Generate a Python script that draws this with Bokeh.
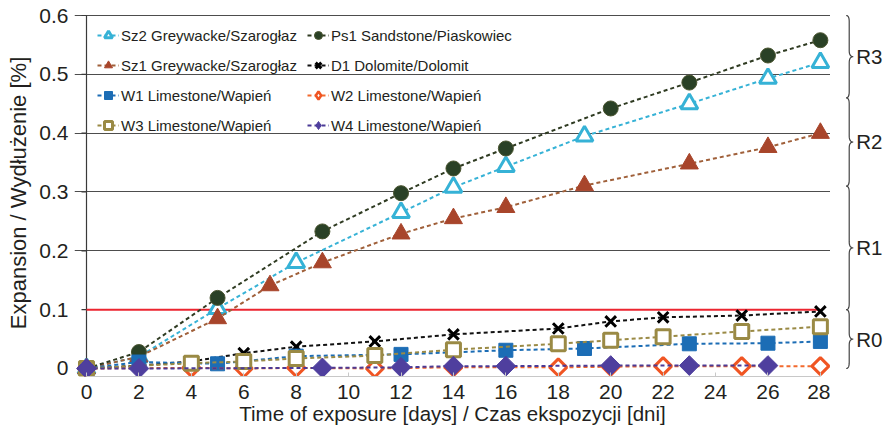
import numpy as np
from bokeh.plotting import figure
from bokeh.layouts import row
from bokeh.models import Range1d, FixedTicker, Legend, LegendItem
from bokeh.core.properties import value
from bokeh.embed import file_html
from bokeh.resources import INLINE

# ---------------- data ----------------
X_TICKS = list(range(0, 29, 2))
Y_TICKS = [0, 0.1, 0.2, 0.3, 0.4, 0.5, 0.6]
Y_TICK_LABELS = {0: "0", 0.1: "0.1", 0.2: "0.2", 0.3: "0.3", 0.4: "0.4", 0.5: "0.5", 0.6: "0.6"}
GRID_LEVELS = [0.2, 0.3, 0.4, 0.5, 0.6]
THRESHOLD = 0.1

sz2_days = [0, 2, 5, 8, 12, 14, 16, 19, 23, 26, 28]
sz2_exp = [0, 0.02, 0.102, 0.18, 0.265, 0.308, 0.343, 0.395, 0.45, 0.493, 0.52]
ps1_days = [0, 2, 5, 9, 12, 14, 16, 20, 23, 26, 28]
ps1_exp = [0, 0.028, 0.12, 0.233, 0.298, 0.34, 0.374, 0.442, 0.486, 0.532, 0.558]
sz1_days = [0, 2, 5, 7, 9, 12, 14, 16, 19, 23, 26, 28]
sz1_exp = [0, 0.02, 0.085, 0.141, 0.18, 0.229, 0.255, 0.274, 0.311, 0.348, 0.376, 0.4]
d1_days = [0, 2, 4, 6, 8, 11, 14, 18, 20, 22, 25, 28]
d1_exp = [0, 0.005, 0.012, 0.026, 0.037, 0.046, 0.058, 0.068, 0.08, 0.087, 0.09, 0.097]
w1_days = [0, 2, 5, 8, 12, 16, 19, 23, 26, 28]
w1_exp = [0, 0.011, 0.008, 0.021, 0.024, 0.031, 0.034, 0.042, 0.043, 0.046]
w2_days = [0, 4, 6, 8, 11, 14, 18, 20, 22, 25, 28]
w2_exp = [0, 0.001, 0, 0.001, 0, 0.002, 0.002, 0.003, 0.004, 0.004, 0.004]
w3_days = [0, 4, 6, 8, 11, 14, 18, 20, 22, 25, 28]
w3_exp = [0, 0.009, 0.012, 0.017, 0.022, 0.032, 0.042, 0.048, 0.054, 0.063, 0.071]
w4_days = [0, 2, 9, 12, 14, 16, 20, 23, 26]
w4_exp = [0, 0, 0.001, 0.002, 0.004, 0.004, 0.005, 0.005, 0.005]

REGION_LABELS = ["R0", "R1", "R2", "R3"]
REGION_BOUNDS = [0, 0.1, 0.31, 0.46, 0.6]

FONT = "Liberation Sans"
TEXT = "#231f20"

# ---------------- layout constants (pixels) ----------------
PX_X = 26.21   # pixels per day
PX_Y = 588.3   # pixels per unit of expansion
FRAME_H = 367
MAIN_W = 756
SIDE_W = 54
Y0 = -8 / PX_Y
Y1 = 0.6 + 6 / PX_Y
X0 = -12 / PX_X
X1 = X0 + MAIN_W / PX_X
X2 = X1 + SIDE_W / PX_X

# ---------------- main figure ----------------
p = figure(frame_width=MAIN_W, frame_height=FRAME_H, output_backend="svg", toolbar_location=None,
           x_range=Range1d(X0, X1), y_range=Range1d(Y0, Y1),
           min_border_left=74, min_border_right=0, min_border_top=9, min_border_bottom=56,
           background_fill_color="white", border_fill_color="white", outline_line_color=None)

p.xgrid.visible = False
p.ygrid.ticker = FixedTicker(ticks=GRID_LEVELS)
p.ygrid.bounds = (X_TICKS[0], X_TICKS[-1])
p.ygrid.grid_line_color = "#4d4d4d"
p.ygrid.grid_line_width = 1.2

xa = p.xaxis[0]
xa.ticker = FixedTicker(ticks=X_TICKS)
xa.bounds = (X_TICKS[0], X_TICKS[-1])
xa.axis_line_color = "#c8c8c8"
xa.major_tick_line_color = "#c8c8c8"
xa.major_tick_in = 4
xa.major_tick_out = 0
xa.minor_tick_line_color = None
xa.major_label_standoff = 8
xa.major_label_text_font = FONT
xa.major_label_text_font_size = "21px"
xa.major_label_text_color = TEXT
xa.axis_label = "Time of exposure [days] / Czas ekspozycji [dni]"
xa.axis_label_text_font = FONT
xa.axis_label_text_font_size = "20.5px"
xa.axis_label_text_font_style = "normal"
xa.axis_label_text_color = TEXT
xa.axis_label_standoff = 0

ya = p.yaxis[0]
ya.ticker = FixedTicker(ticks=Y_TICKS)
ya.major_label_overrides = Y_TICK_LABELS
ya.axis_line_color = None
ya.major_tick_line_color = None
ya.minor_tick_line_color = None
ya.major_label_standoff = 0
ya.major_label_text_font = FONT
ya.major_label_text_font_size = "21px"
ya.major_label_text_color = TEXT
ya.axis_label = "Expansion / Wydłużenie [%]"
ya.axis_label_text_font = FONT
ya.axis_label_text_font_size = "22px"
ya.axis_label_text_font_style = "normal"
ya.axis_label_text_color = TEXT
ya.axis_label_standoff = 5

# y axis rule and ticks at day 0
p.segment(x0=[X_TICKS[0]], x1=[X_TICKS[0]], y0=[Y_TICKS[0]], y1=[Y_TICKS[-1]],
          line_color="#3a3a3a", line_width=1.2)
p.segment(x0=[X_TICKS[0] - 5 / PX_X] * len(Y_TICKS), x1=[X_TICKS[0]] * len(Y_TICKS),
          y0=Y_TICKS, y1=Y_TICKS, line_color="#3a3a3a", line_width=1.2)

# threshold line
p.segment(x0=[X_TICKS[0]], x1=[X_TICKS[-1]], y0=[THRESHOLD], y1=[THRESHOLD],
          line_color="#ec2530", line_width=2)

# ---------------- series ----------------
series = [
    ("Sz2 Greywacke/Szarogłaz", sz2_days, sz2_exp, "#36b2d6",
     dict(marker="triangle", size=17, fill_color="white", line_color="#36b2d6", line_width=3), None),
    ("Sz1 Greywacke/Szarogłaz", sz1_days, sz1_exp, "#a0603a",
     dict(marker="triangle", size=18, fill_color="#a8452b", line_color="#a8452b", line_width=1), None),
    ("Ps1 Sandstone/Piaskowiec", ps1_days, ps1_exp, "#2f3b22",
     dict(marker="circle", size=15, fill_color="#2a4126", line_color="#4a5530", line_width=1), None),
    ("D1 Dolomite/Dolomit", d1_days, d1_exp, "#111111",
     dict(marker="x", size=15, line_color="#000000", line_width=3), None),
    ("W1 Limestone/Wapień", w1_days, w1_exp, "#1c6db5",
     dict(marker="square", size=14, fill_color="#1c6db5", line_color="#1c6db5", line_width=1), None),
    ("W2 Limestone/Wapień", w2_days, w2_exp, "#f26a2e",
     dict(marker="square", angle=np.pi / 4, size=12, fill_color="white", line_color="#f05523", line_width=3),
     dict(marker="diamond", size=15, fill_color="white", line_color="#f05523", line_width=2.5)),
    ("W3 Limestone/Wapień", w3_days, w3_exp, "#9a8a45",
     dict(marker="square", size=14, fill_color="white", line_color="#9a8a45", line_width=3), None),
    ("W4 Limestone/Wapień", w4_days, w4_exp, "#4b3a96",
     dict(marker="square", angle=np.pi / 4, size=14, fill_color="#4f3f9e", line_color="#4f3f9e", line_width=1),
     dict(marker="diamond", size=15, fill_color="#4f3f9e", line_color="#4f3f9e", line_width=1)),
]

items = {}
for label, xs, ys, lc, mk, legend_mk in series:
    lr = p.line(xs, ys, line_color=lc, line_width=2, line_dash="4 3")
    sr = p.scatter(xs, ys, **mk)
    if legend_mk is not None:
        # rotated squares are drawn unrotated in legends; a non-plotted diamond glyph serves as the key
        sr = p.scatter(x=[np.nan], y=[np.nan], **legend_mk)
    items[label] = LegendItem(label=label, renderers=[lr, sr])

legend_order = ["Sz2 Greywacke/Szarogłaz", "Ps1 Sandstone/Piaskowiec",
                "Sz1 Greywacke/Szarogłaz", "D1 Dolomite/Dolomit",
                "W1 Limestone/Wapień", "W2 Limestone/Wapień",
                "W3 Limestone/Wapień", "W4 Limestone/Wapień"]
legend = Legend(items=[items[k] for k in legend_order], orientation="horizontal", ncols=2,
                location=(23, 241), margin=0, padding=0, spacing=10,
                glyph_width=22, glyph_height=20, label_height=20, label_standoff=2,
                label_text_font=FONT, label_text_font_size="15px", label_text_color=TEXT,
                background_fill_alpha=0, border_line_alpha=0)
p.add_layout(legend)

# ---------------- side figure with region braces ----------------
s = figure(frame_width=SIDE_W, frame_height=FRAME_H, output_backend="svg", toolbar_location=None,
           x_range=Range1d(X1, X2), y_range=p.y_range,
           min_border_left=0, min_border_right=0, min_border_top=9, min_border_bottom=56,
           background_fill_color="white", border_fill_color="white", outline_line_color=None)
s.axis.visible = False
s.grid.visible = False

BRACE_X = 29.1
HOOK = 3 / PX_X
TIP = 4 / PX_X
RAD = 6 / PX_Y


def quad(p0, c, p1, n=9):
    t = np.linspace(0, 1, n)[:, None]
    return (1 - t) ** 2 * np.array(p0) + 2 * (1 - t) * t * np.array(c) + t ** 2 * np.array(p1)


bx, by, mids = [], [], []
for bot, top in zip(REGION_BOUNDS[:-1], REGION_BOUNDS[1:]):
    mid = (top + bot) / 2
    mids.append(mid)
    pts = np.vstack([
        quad((BRACE_X - HOOK, top), (BRACE_X, top), (BRACE_X, top - RAD)),
        quad((BRACE_X, mid + RAD), (BRACE_X, mid), (BRACE_X + TIP, mid)),
        quad((BRACE_X + TIP, mid), (BRACE_X, mid), (BRACE_X, mid - RAD)),
        quad((BRACE_X, bot + RAD), (BRACE_X, bot), (BRACE_X - HOOK, bot)),
    ])
    bx.append(list(pts[:, 0]))
    by.append(list(pts[:, 1]))

s.multi_line(bx, by, line_color="#444444", line_width=1.2)
s.text(x=[BRACE_X + 7 / PX_X] * len(mids), y=mids, text=REGION_LABELS,
       text_font=value(FONT), text_font_size=value("20.5px"), text_color=TEXT,
       text_baseline="middle", text_align="left")

layout = row(p, s)
open("out.html", "w").write(file_html(layout, INLINE))
